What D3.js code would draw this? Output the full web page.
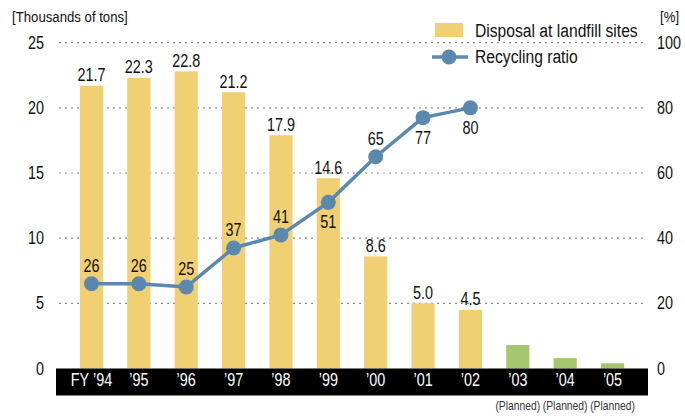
<!DOCTYPE html>
<html>
<head>
<meta charset="utf-8">
<script src="https://cdn.jsdelivr.net/npm/d3@7"></script>
<style>
  body { margin: 0; background: #fff; }
  svg { font-family: "Liberation Sans", Arial, sans-serif; }
</style>
</head>
<body>
<svg id="chart" width="685" height="416"></svg>
<script>
const years = ["FY ’94", "’95", "’96", "’97", "’98", "’99", "’00", "’01", "’02", "’03", "’04", "’05"];
const planned = [false, false, false, false, false, false, false, false, false, true, true, true];
const disposal = [21.7, 22.3, 22.8, 21.2, 17.9, 14.6, 8.6, 5.0, 4.5, 1.8, 0.8, 0.4];
const recycling = [26, 26, 25, 37, 41, 51, 65, 77, 80];
const recyclingLabelBelow = [false, false, false, false, false, true, false, true, true];
const leftTicks = [0, 5, 10, 15, 20, 25];
const rightTicks = [0, 20, 40, 60, 80, 100];

const barColor = '#f0d073', plannedColor = '#a5c86e', lineColor = '#5a88ae';

function translate(x, y) { return `translate(${x}, ${y})`; }

// condensed text, positioned by transform
function label(sel, x, y, size, anchor, color, squeeze = 0.8) {
    return sel
        .attr('transform', (d, i) => translate(x(d, i), y(d, i)) + ` scale(${squeeze},1)`)
        .style('font-size', size + 'px')
        .style('text-anchor', anchor)
        .style('fill', color);
}
const k = v => () => v;

const svg = d3.select('#chart');
const plotTop = 42.7, plotBottom = 368.5;

const x = d3.scaleBand().domain(years).range([67.8, 636.2]).paddingInner(0.51).paddingOuter(0.255);
const yL = d3.scaleLinear().domain([0, 25]).range([plotBottom, plotTop]);
const yR = d3.scaleLinear().domain([0, 100]).range([plotBottom, plotTop]);

// gridlines
svg.append('g').selectAll('line').data(leftTicks.filter(d => d > 0)).enter().append('line')
    .attr('x1', 59).attr('x2', 646)
    .attr('y1', d => yL(d)).attr('y2', d => yL(d))
    .style('stroke', '#8a8a8a').style('stroke-width', 1.2)
    .style('stroke-dasharray', '2,4');

// axis labels
svg.append('g').selectAll('text').data(leftTicks).enter().append('text')
    .call(label, k(44), d => yL(d) + 6, 18, 'end', '#111')
    .text(d => d);
svg.append('g').selectAll('text').data(rightTicks).enter().append('text')
    .call(label, k(657), d => yR(d) + 6, 18, 'start', '#111')
    .text(d => d);

svg.append('text').datum(0).call(label, k(12), k(22), 15, 'start', '#111', 0.88)
    .text('[Thousands of tons]');
svg.append('text').datum(0).call(label, k(660), k(22), 15, 'start', '#111', 0.88)
    .text('[%]');

// bars
svg.append('g').selectAll('rect').data(disposal).enter().append('rect')
    .attr('x', (d, i) => x(years[i]))
    .attr('y', d => yL(d))
    .attr('width', x.bandwidth())
    .attr('height', d => plotBottom - yL(d))
    .style('fill', (d, i) => planned[i] ? plannedColor : barColor);

// bar labels
svg.append('g').selectAll('text').data(disposal.filter((d, i) => !planned[i])).enter()
    .append('text')
    .call(label, (d, i) => x(years[i]) + x.bandwidth() / 2, d => yL(d) - 4.5, 18, 'middle', '#111')
    .text(d => d.toFixed(1));

// x axis band
svg.append('rect').attr('x', 56).attr('y', plotBottom).attr('width', 592).attr('height', 27).style('fill', '#000');
svg.append('g').selectAll('text').data(years).enter().append('text')
    .call(label, d => x(d) + x.bandwidth() / 2, k(plotBottom + 17.5), 18, 'middle', '#fff')
    .text(d => d);
svg.append('g').selectAll('text').data(years.filter((d, i) => planned[i])).enter().append('text')
    .call(label, d => x(d) + x.bandwidth() / 2, k(410), 12, 'middle', '#333', 0.86)
    .text('(Planned)');

// recycling line
const cx = i => x(years[i]) + x.bandwidth() / 2;
const line = d3.line().x((d, i) => cx(i)).y(d => yR(d));
svg.append('path').datum(recycling).attr('d', line)
    .style('fill', 'none').style('stroke', lineColor).style('stroke-width', 3.5);
svg.append('g').selectAll('circle').data(recycling).enter().append('circle')
    .attr('cx', (d, i) => cx(i)).attr('cy', d => yR(d)).attr('r', 7.5)
    .style('fill', lineColor);
svg.append('g').selectAll('text').data(recycling).enter().append('text')
    .call(label, (d, i) => cx(i), (d, i) => recyclingLabelBelow[i] ? yR(d) + 26 : yR(d) - 12, 18, 'middle', '#111')
    .text(d => d);

// legend
const legend = svg.append('g');
legend.append('rect').attr('x', 435).attr('y', 23).attr('width', 28).attr('height', 14).style('fill', barColor);
legend.append('text').datum(0).call(label, k(475), k(36.5), 18, 'start', '#111', 0.87)
    .text('Disposal at landfill sites');
legend.append('line').attr('x1', 432).attr('x2', 468).attr('y1', 57).attr('y2', 57)
    .style('stroke', lineColor).style('stroke-width', 3.5);
legend.append('circle').attr('cx', 449).attr('cy', 57).attr('r', 7.5).style('fill', lineColor);
legend.append('text').datum(0).call(label, k(475), k(63), 18, 'start', '#111', 0.87)
    .text('Recycling ratio');
</script>
</body>
</html>
